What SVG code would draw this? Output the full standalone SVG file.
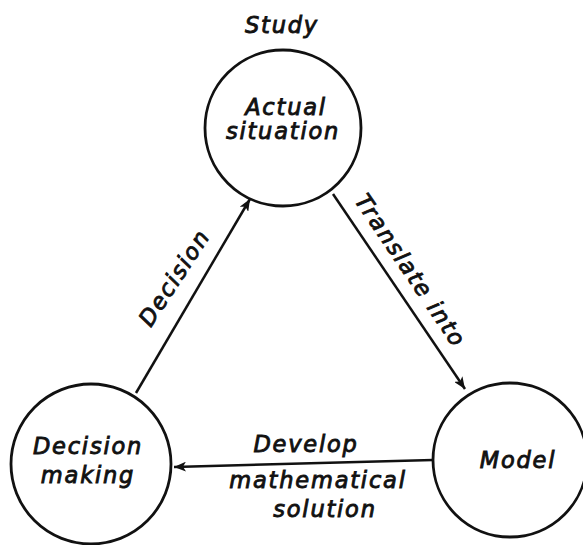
<svg xmlns="http://www.w3.org/2000/svg" width="583" height="545" viewBox="0 0 583 545">
<style>
.node{fill:none;stroke:#111;stroke-width:2.8}
.edge{fill:none;stroke:#111;stroke-width:2.5}
text{font-family:"DejaVu Sans","Liberation Sans",sans-serif;font-style:italic;font-size:22.5px;fill:#111;letter-spacing:1.8px;text-anchor:middle;stroke:#111;stroke-width:0.9}
</style>
<defs>
<marker id="arr" viewBox="0 0 12 10" refX="12" refY="5" markerWidth="12" markerHeight="10" markerUnits="userSpaceOnUse" orient="auto">
<path d="M0,0 L12,5 L0,10 L3,5 Z" fill="#111"/>
</marker>
</defs>
<rect width="583" height="545" fill="#fff"/>
<g id="connectors">
<line class="edge" x1="136" y1="393" x2="250" y2="199" marker-end="url(#arr)"/>
<line class="edge" x1="333" y1="194" x2="465" y2="389" marker-end="url(#arr)"/>
<line class="edge" x1="433" y1="460" x2="174" y2="467" marker-end="url(#arr)"/>
<text transform="translate(175,278) rotate(-57)" x="0" y="7" font-size="23">Decision</text>
<text transform="translate(410,271) rotate(56)" x="0" y="7" font-size="23">Translate into</text>
<text x="306" y="452">Develop</text>
<text x="318" y="488">mathematical</text>
<text x="325" y="517">solution</text>
</g>
<g id="actual-situation">
<text x="282" y="33">Study</text>
<circle class="node" cx="283" cy="128" r="78"/>
<text x="286" y="115">Actual</text>
<text x="283" y="139">situation</text>
</g>
<g id="decision-making">
<circle class="node" cx="91" cy="464" r="80"/>
<text x="88" y="454">Decision</text>
<text x="88" y="483">making</text>
</g>
<g id="model">
<circle class="node" cx="510" cy="460" r="77"/>
<text x="518" y="468">Model</text>
</g>
</svg>
